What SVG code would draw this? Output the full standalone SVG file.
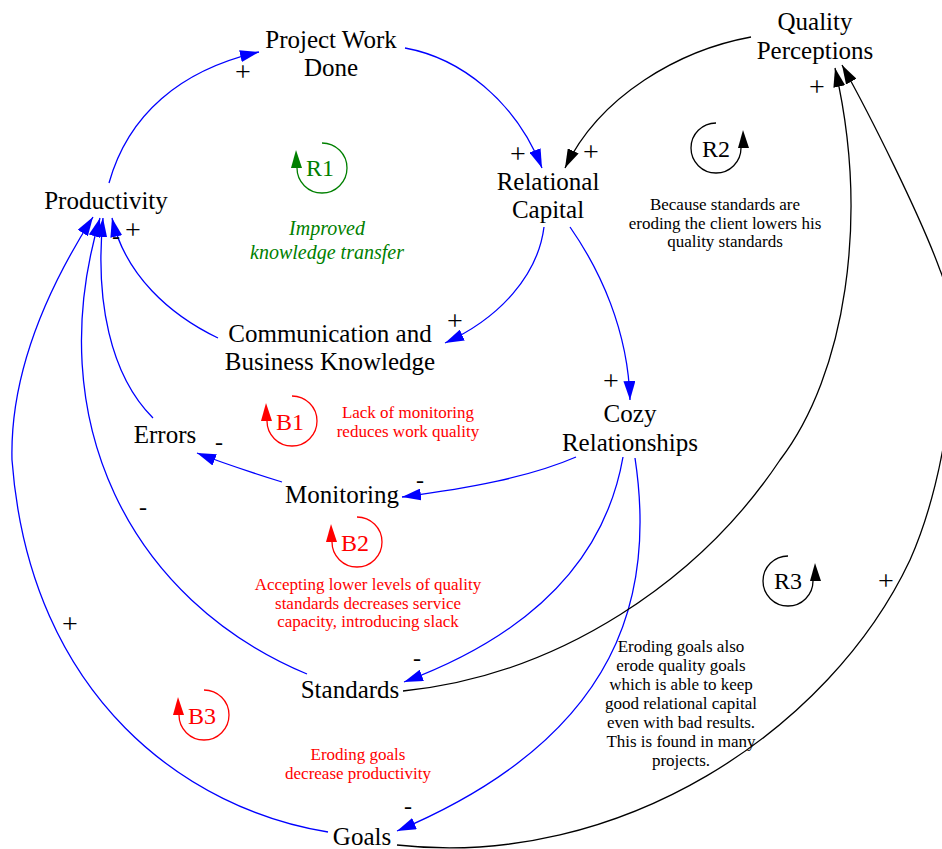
<svg xmlns="http://www.w3.org/2000/svg" width="942" height="849" viewBox="0 0 942 849">
<style>
text{font-family:"Liberation Serif","DejaVu Serif",serif}
.n{font-size:25px;fill:#000;text-anchor:middle}
.s{font-size:24px;fill:#000;text-anchor:middle}
.p{font-size:28px;fill:#000;text-anchor:middle}
.e{fill:none;stroke-width:1.3}
.b{stroke:#0000ff}
.k{stroke:#000}
.lg{font-size:24px;text-anchor:middle}
.note{font-size:17px;text-anchor:middle}
.it{font-size:20px;font-style:italic;text-anchor:middle;fill:#008000}
</style>
<defs>
<marker id="ab" viewBox="0 0 19 12" refX="19" refY="6" markerWidth="19" markerHeight="12" orient="auto" markerUnits="userSpaceOnUse"><path d="M0,0 L19,6 L0,12 z" fill="#0000ff"/></marker>
<marker id="ak" viewBox="0 0 19 12" refX="19" refY="6" markerWidth="19" markerHeight="12" orient="auto" markerUnits="userSpaceOnUse"><path d="M0,0 L19,6 L0,12 z" fill="#000"/></marker>
</defs>
<rect width="942" height="849" fill="#fff"/>
<g id="connectors">
<path class="e b" marker-end="url(#ab)" d="M109,183 C128,115 180,70 259,52"/>
<path class="e b" marker-end="url(#ab)" d="M405,48 C460,58 515,100 542,168"/>
<path class="e k" marker-end="url(#ak)" d="M751,37 C680,50 600,95 565,168"/>
<path class="e b" marker-end="url(#ab)" d="M544,227 C538,275 500,318 445,343"/>
<path class="e b" marker-end="url(#ab)" d="M570,227 C600,270 628,330 630,400"/>
<path class="e b" marker-end="url(#ab)" d="M218,338 C170,315 125,275 112,218"/>
<path class="e b" marker-end="url(#ab)" d="M153,418 C110,375 95,300 103,218"/>
<path class="e b" marker-end="url(#ab)" d="M282,482 C250,472 220,462 197,453"/>
<path class="e b" marker-end="url(#ab)" d="M576,457 C530,477 470,488 402,497"/>
<path class="e b" marker-end="url(#ab)" d="M623,457 C605,560 530,635 404,682"/>
<path class="e b" marker-end="url(#ab)" d="M635,458 C655,590 625,735 397,831"/>
<path class="e b" marker-end="url(#ab)" d="M307,674 C130,600 40,420 100,218"/>
<path class="e b" marker-end="url(#ab)" d="M328,832 C190,810 30,700 12,460 C10,380 40,300 93,217"/>
<path class="e k" marker-end="url(#ak)" d="M403,691 C560,675 700,580 780,460 C845,375 870,220 835,68"/>
<path class="e k" marker-end="url(#ak)" d="M397,845 C620,870 830,730 910,560 C950,470 965,330 940,270 C920,215 870,115 842,65"/>
<text class="p" x="243" y="81">+</text>
<text class="p" x="518" y="163">+</text>
<text class="p" x="591" y="161">+</text>
<text class="p" x="817" y="96">+</text>
<text class="p" x="455" y="330">+</text>
<text class="p" x="611" y="390">+</text>
<text class="p" x="133" y="239">+</text>
<text class="s" x="116" y="244">-</text>
<text class="s" x="219" y="450">-</text>
<text class="s" x="420" y="488">-</text>
<text class="s" x="143" y="515">-</text>
<text class="s" x="417" y="666">-</text>
<text class="s" x="408" y="814">-</text>
<text class="p" x="70" y="633">+</text>
<text class="p" x="886" y="590">+</text>
</g>
<g id="project-work-done"><text class="n" x="331" y="48">Project Work</text><text class="n" x="331" y="76">Done</text></g>
<g id="quality-perceptions"><text class="n" x="815" y="30">Quality</text><text class="n" x="815" y="59">Perceptions</text></g>
<g id="relational-capital"><text class="n" x="548" y="190">Relational</text><text class="n" x="548" y="218">Capital</text></g>
<g id="productivity"><text class="n" x="106" y="209">Productivity</text></g>
<g id="communication"><text class="n" x="330" y="342">Communication and</text><text class="n" x="330" y="370">Business Knowledge</text></g>
<g id="cozy-relationships"><text class="n" x="630" y="422">Cozy</text><text class="n" x="630" y="451">Relationships</text></g>
<g id="errors"><text class="n" x="165" y="443">Errors</text></g>
<g id="monitoring"><text class="n" x="342" y="503">Monitoring</text></g>
<g id="standards"><text class="n" x="350" y="698">Standards</text></g>
<g id="goals"><text class="n" x="362" y="845">Goals</text></g>
<g id="loop-r1" fill="none" stroke="#008000" stroke-width="1.3">
<path d="M322,143 A25,25 0 1 1 297,168"/>
<polygon points="296,150 291,168 302,168" fill="#008000" stroke="none"/>
<text class="lg" x="320" y="176" fill="#008000" stroke="none">R1</text>
<text class="it" x="327" y="235" stroke="none">Improved</text>
<text class="it" x="327" y="259" stroke="none">knowledge transfer</text>
</g>
<g id="loop-r2" fill="none" stroke="#000" stroke-width="1.3">
<path d="M716,123 A25,25 0 1 0 741,148"/>
<polygon points="743,130 738,148 749,148" fill="#000" stroke="none"/>
<text class="lg" x="716" y="157" fill="#000" stroke="none">R2</text>
<text class="note" x="725" y="210" fill="#000" stroke="none">Because standards are</text>
<text class="note" x="725" y="229" fill="#000" stroke="none">eroding the client lowers his</text>
<text class="note" x="725" y="247" fill="#000" stroke="none">quality standards</text>
</g>
<g id="loop-b1" fill="none" stroke="#ff0000" stroke-width="1.3">
<path d="M292,396 A25,25 0 1 1 267,421"/>
<polygon points="266,403 261,421 272,421" fill="#ff0000" stroke="none"/>
<text class="lg" x="290" y="430" fill="#ff0000" stroke="none">B1</text>
<text class="note" x="408" y="418" fill="#ff0000" stroke="none">Lack of monitoring</text>
<text class="note" x="408" y="437" fill="#ff0000" stroke="none">reduces work quality</text>
</g>
<g id="loop-b2" fill="none" stroke="#ff0000" stroke-width="1.3">
<path d="M357,517 A25,25 0 1 1 332,542"/>
<polygon points="331,524 326,542 337,542" fill="#ff0000" stroke="none"/>
<text class="lg" x="355" y="551" fill="#ff0000" stroke="none">B2</text>
<text class="note" x="368" y="590" fill="#ff0000" stroke="none">Accepting lower levels of quality</text>
<text class="note" x="368" y="609" fill="#ff0000" stroke="none">standards decreases service</text>
<text class="note" x="368" y="627" fill="#ff0000" stroke="none">capacity, introducing slack</text>
</g>
<g id="loop-b3" fill="none" stroke="#ff0000" stroke-width="1.3">
<path d="M204,690 A25,25 0 1 1 179,715"/>
<polygon points="178,697 173,715 184,715" fill="#ff0000" stroke="none"/>
<text class="lg" x="202" y="724" fill="#ff0000" stroke="none">B3</text>
<text class="note" x="358" y="760" fill="#ff0000" stroke="none">Eroding goals</text>
<text class="note" x="358" y="779" fill="#ff0000" stroke="none">decrease productivity</text>
</g>
<g id="loop-r3" fill="none" stroke="#000" stroke-width="1.3">
<path d="M788,556 A25,25 0 1 0 813,581"/>
<polygon points="815,563 810,581 821,581" fill="#000" stroke="none"/>
<text class="lg" x="788" y="589" fill="#000" stroke="none">R3</text>
<text class="note" x="681" y="652" fill="#000" stroke="none">Eroding goals also</text>
<text class="note" x="681" y="671" fill="#000" stroke="none">erode quality goals</text>
<text class="note" x="681" y="690" fill="#000" stroke="none">which is able to keep</text>
<text class="note" x="681" y="709" fill="#000" stroke="none">good relational capital</text>
<text class="note" x="681" y="728" fill="#000" stroke="none">even with bad results.</text>
<text class="note" x="681" y="747" fill="#000" stroke="none">This is found in many</text>
<text class="note" x="681" y="766" fill="#000" stroke="none">projects.</text>
</g>
</svg>
